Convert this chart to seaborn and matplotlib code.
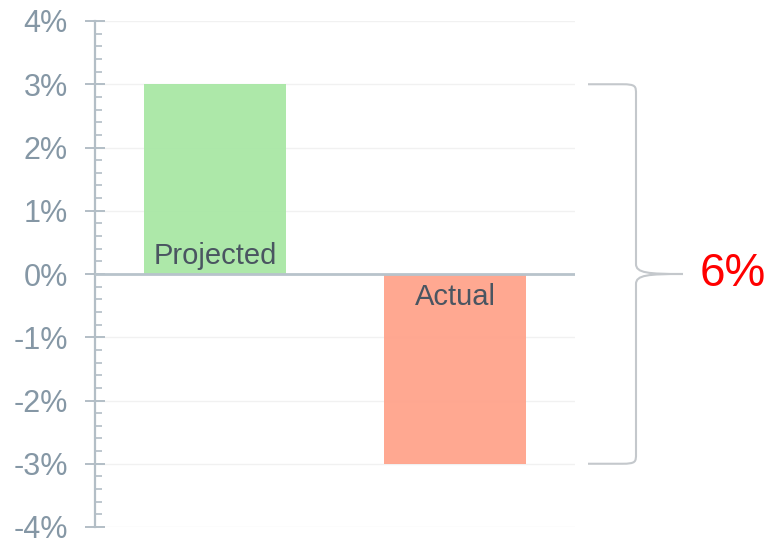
import matplotlib
matplotlib.use("Agg")
import matplotlib.pyplot as plt
from matplotlib.path import Path
from matplotlib.patches import PathPatch
from matplotlib.ticker import MultipleLocator, FuncFormatter
import seaborn as sns
import pandas as pd

categories = ["Projected", "Actual"]
values = [3, -3]
bar_colors = ["#a9e7a5", "#ffa38b"]
spread_label = "6%"

sns.set_theme(style="white")
plt.rcParams["font.family"] = ["Liberation Sans", "DejaVu Sans"]

df = pd.DataFrame({"category": categories, "value": values})

fig = plt.figure(figsize=(7.72, 5.39), dpi=100)
ax = fig.add_axes([95 / 772, 1 - 527 / 539, 480 / 772, (527 - 21) / 539])

sns.barplot(data=df, x="category", y="value", hue="category",
            palette=bar_colors, width=0.59, legend=False, ax=ax,
            saturation=1, edgecolor="none")
for p in ax.patches:
    p.set_alpha(0.95)

ax.set_ylim(-4, 4)
ax.set_xlim(-0.5, 1.5)
ax.set_xlabel("")
ax.set_ylabel("")
ax.set_xticks([])

# y axis: major ticks every 1%, minor ticks every 0.2%
ax.yaxis.set_major_locator(MultipleLocator(1))
ax.yaxis.set_minor_locator(MultipleLocator(0.2))
ax.yaxis.set_major_formatter(FuncFormatter(lambda v, _: f"{int(round(v))}%"))
axis_col = "#b3bec6"
ax.tick_params(axis="y", which="major", direction="inout", length=14.4,
               width=1.4, color=axis_col, labelsize=22, labelcolor="#8597a5",
               pad=12.5, left=True)
ax.tick_params(axis="y", which="minor", direction="in", length=5.2,
               width=1.2, color=axis_col, left=True)

for s in ["top", "right", "bottom"]:
    ax.spines[s].set_visible(False)
ax.spines["left"].set_color(axis_col)
ax.spines["left"].set_linewidth(1.6)

ax.yaxis.grid(True, which="major", color="#f1f1f1", linewidth=1)
ax.set_axisbelow(True)
ax.axhline(0, color="#b8c3cb", linewidth=2, zorder=3)

# Category names placed inside the bars, near the zero line
ax.annotate(categories[0], xy=(0, 0), xytext=(0, 7.5), textcoords="offset points",
            ha="center", va="baseline", fontsize=21, color="#4a5561", zorder=4)
ax.annotate(categories[1], xy=(1, 0), xytext=(0, -22.5), textcoords="offset points",
            ha="center", va="baseline", fontsize=21, color="#4a5561", zorder=4)

# Curly brace spanning the gap between the two bar values
px = lambda x: (x - 95) / 480.0
trans = ax.get_yaxis_transform()
dy = 1 / 63.3
top, bot = values[0], values[1]
mid = (top + bot) / 2
verts = [
    (px(588), top), (px(622), top),
    (px(636), top), (px(636), top - 2 * dy), (px(636), top - 10 * dy),
    (px(636), mid + 10 * dy),
    (px(636), mid + 1 * dy), (px(648), mid), (px(683), mid),
    (px(648), mid), (px(636), mid - 1 * dy), (px(636), mid - 10 * dy),
    (px(636), bot + 10 * dy),
    (px(636), bot + 2 * dy), (px(636), bot), (px(622), bot),
    (px(588), bot),
]
codes = [Path.MOVETO, Path.LINETO,
         Path.CURVE4, Path.CURVE4, Path.CURVE4,
         Path.LINETO,
         Path.CURVE4, Path.CURVE4, Path.CURVE4,
         Path.CURVE4, Path.CURVE4, Path.CURVE4,
         Path.LINETO,
         Path.CURVE4, Path.CURVE4, Path.CURVE4,
         Path.LINETO]
brace = PathPatch(Path(verts, codes), transform=trans, fill=False,
                  edgecolor="#c4c8cc", linewidth=1.5, clip_on=False)
ax.add_patch(brace)

ax.text(px(700), mid, spread_label, transform=trans, ha="left", va="center",
        fontsize=33, color="#ff0000")

fig.savefig("out.png", dpi=100)
